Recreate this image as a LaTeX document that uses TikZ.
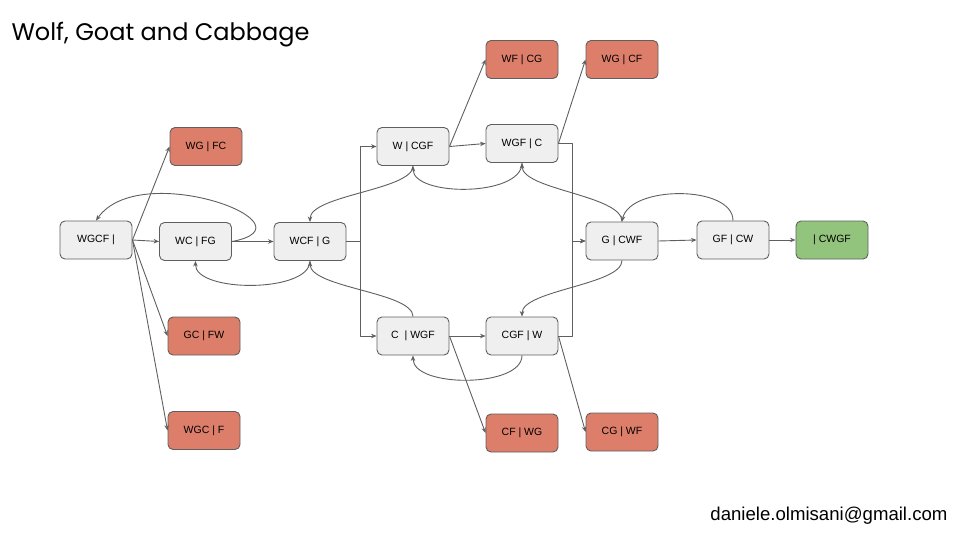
\documentclass[tikz,border=0pt]{standalone}
\usepackage{fontspec}
\setmainfont{Liberation Sans}
\newfontfamily\titlefont{Poppins}
\usetikzlibrary{arrows.meta}
\definecolor{edgegray}{HTML}{5F5F5F}
\definecolor{stategray}{HTML}{EFEFEF}
\definecolor{badred}{HTML}{DD7E6B}
\definecolor{goodgreen}{HTML}{93C47D}
\tikzset{
  state/.style={draw=edgegray, fill=stategray, rounded corners=5pt, line width=0.9pt,
    minimum width=72pt, minimum height=38pt, inner sep=0pt, font=\fontsize{10.5}{12}\selectfont},
  lost/.style={state, fill=badred},
  goal/.style={state, fill=goodgreen},
  move/.style={->, draw=edgegray, line width=0.9pt}
}
\begin{document}
\begin{tikzpicture}[x=1pt, y=-1pt, >={Stealth[length=5.5pt,width=4.5pt]}, line join=round]
\useasboundingbox (0,0) rectangle (960,540);
\node[anchor=base west, font=\titlefont\fontsize{24}{28}\selectfont] (title) at (8,41) {Wolf, Goat and Cabbage};
\node[anchor=base east, font=\fontsize{18.6}{22}\selectfont] (mail) at (951,520) {daniele.olmisani@gmail.com};
% states on the way
\node[state] (wgcf) at (96,240) {WGCF |};
\node[state] (wcfg) at (195.5,241.5) {WC | FG};
\node[state] (wcfg2) at (310,241.5) {WCF | G};
\node[state] (wcgf) at (413,146.5) {W | CGF};
\node[state] (cwgf) at (413,336) {C\ \ | WGF};
\node[state] (wgfc) at (522,143.5) {WGF | C};
\node[state] (cgfw) at (522,336) {CGF | W};
\node[state] (gcwf) at (622,241) {G | CWF};
\node[state] (gfcw) at (733,240) {GF | CW};
\node[goal] (done) at (832,240) {| CWGF};
% lost states
\foreach \n/\x/\y/\t in {wgfc1/206/146.5/{WG | FC}, gcfw/204/336/{GC | FW}, wgcf1/204/430.5/{WGC | F},
  wfcg/522/59.5/{WF | CG}, wgcf2/622/59.5/{WG | CF}, cfwg/522/433/{CF | WG}, cgwf/622/432/{CG | WF}}
\node[lost] (\n) at (\x,\y) {\t};
% forward moves
\draw[move] (wgcf.east) -- (wcfg.west);
\draw[move] (wcfg.east) -- (wcfg2.west);
\draw[move] (wgcf.east) -- (wgfc1.west);
\draw[move] (wgcf.east) -- (gcfw.west);
\draw[move] (wgcf.east) -- (wgcf1.west);
\draw[move] (wcfg2.east) -- ++(14,0) |- (wcgf.west);
\draw[move] (wcfg2.east) -- ++(14,0) |- (cwgf.west);
\draw[move] (wcgf.east) -- (wgfc.west);
\draw[move] (cwgf.east) -- (cgfw.west);
\draw[move] (wcgf.east) -- (wfcg.west);
\draw[move] (wgfc.east) -- (wgcf2.west);
\draw[move] (cwgf.east) -- (cfwg.west);
\draw[move] (cgfw.east) -- (cgwf.west);
\draw[move] (wgfc.east) -- ++(14,0) |- (gcwf.west);
\draw[move] (cgfw.east) -- ++(14,0) |- (gcwf.west);
\draw[move] (gcwf.east) -- (gfcw.west);
\draw[move] (gfcw.east) -- (done.west);
% moves back
\draw[move] (wcfg.east) .. controls (320,225) and (140,158) .. (wgcf.north);
\draw[move] (wcfg2.south) .. controls (310,293) and (195,293) .. (wcfg.south);
\draw[move] (wcgf.south) .. controls (413,190) and (310,195) .. (wcfg2.north);
\draw[move] (cwgf.north) .. controls (413,292) and (310,288) .. (wcfg2.south);
\draw[move] (wgfc.south) .. controls (522,197) and (413,197) .. (wcgf.south);
\draw[move] (cgfw.south) .. controls (522,388) and (413,388) .. (cwgf.south);
\draw[move] (gcwf.north) .. controls (622,195) and (522,190) .. (wgfc.south);
\draw[move] (gcwf.south) .. controls (622,285) and (522,290) .. (cgfw.north);
\draw[move] (gfcw.north) .. controls (733,185) and (630,185) .. (gcwf.north);
\end{tikzpicture}
\end{document}
